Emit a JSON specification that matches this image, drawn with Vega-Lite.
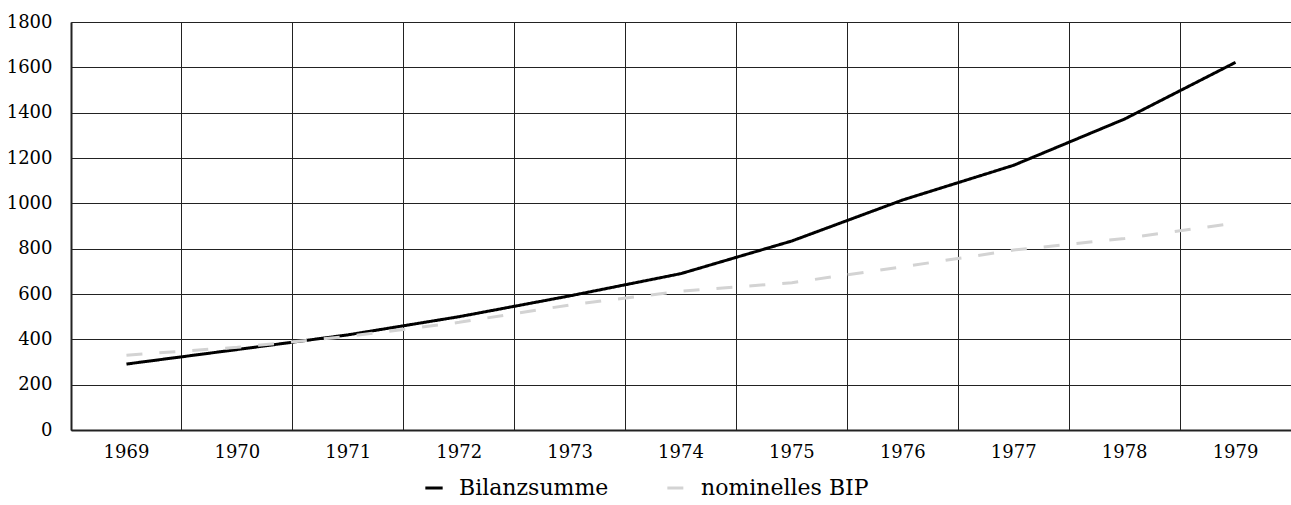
{
  "$schema": "https://vega.github.io/schema/vega-lite/v6.json",
  "width": 1220,
  "height": 408,
  "autosize": {"type": "none"},
  "padding": {"left": 71, "top": 22, "right": 0, "bottom": 75},
  "background": "white",
  "config": {
    "font": "DejaVu Serif, serif",
    "axis": {"labelFont": "DejaVu Serif, serif"},
    "legend": {"labelFont": "DejaVu Serif, serif"},
    "view": {"stroke": null}
  },
  "data": {
    "values": [
      {"Jahr": "1969", "Reihe": "Bilanzsumme", "Wert": 291},
      {"Jahr": "1970", "Reihe": "Bilanzsumme", "Wert": 355},
      {"Jahr": "1971", "Reihe": "Bilanzsumme", "Wert": 420},
      {"Jahr": "1972", "Reihe": "Bilanzsumme", "Wert": 500},
      {"Jahr": "1973", "Reihe": "Bilanzsumme", "Wert": 592},
      {"Jahr": "1974", "Reihe": "Bilanzsumme", "Wert": 690},
      {"Jahr": "1975", "Reihe": "Bilanzsumme", "Wert": 834},
      {"Jahr": "1976", "Reihe": "Bilanzsumme", "Wert": 1015},
      {"Jahr": "1977", "Reihe": "Bilanzsumme", "Wert": 1168},
      {"Jahr": "1978", "Reihe": "Bilanzsumme", "Wert": 1372},
      {"Jahr": "1979", "Reihe": "Bilanzsumme", "Wert": 1622},
      {"Jahr": "1969", "Reihe": "nominelles BIP", "Wert": 330},
      {"Jahr": "1970", "Reihe": "nominelles BIP", "Wert": 365},
      {"Jahr": "1971", "Reihe": "nominelles BIP", "Wert": 413},
      {"Jahr": "1972", "Reihe": "nominelles BIP", "Wert": 475},
      {"Jahr": "1973", "Reihe": "nominelles BIP", "Wert": 552},
      {"Jahr": "1974", "Reihe": "nominelles BIP", "Wert": 612},
      {"Jahr": "1975", "Reihe": "nominelles BIP", "Wert": 650},
      {"Jahr": "1976", "Reihe": "nominelles BIP", "Wert": 720},
      {"Jahr": "1977", "Reihe": "nominelles BIP", "Wert": 794},
      {"Jahr": "1978", "Reihe": "nominelles BIP", "Wert": 845},
      {"Jahr": "1979", "Reihe": "nominelles BIP", "Wert": 913}
    ]
  },
  "mark": {"type": "line", "strokeWidth": 3, "strokeCap": "butt"},
  "encoding": {
    "x": {
      "field": "Jahr",
      "type": "ordinal",
      "scale": {"type": "band", "paddingInner": 0, "paddingOuter": 0},
      "axis": {
        "title": null,
        "bandPosition": 0,
        "grid": true,
        "gridColor": "#222",
        "gridWidth": 1,
        "gridOpacity": 1,
        "ticks": false,
        "domain": true,
        "domainColor": "#222",
        "domainWidth": 2,
        "labelAngle": 0,
        "labelFontSize": 18,
        "labelColor": "#000",
        "labelPadding": 13,
        "labelAlign": "center"
      }
    },
    "y": {
      "field": "Wert",
      "type": "quantitative",
      "scale": {"domain": [0, 1800], "nice": false},
      "axis": {
        "title": null,
        "values": [0, 200, 400, 600, 800, 1000, 1200, 1400, 1600, 1800],
        "format": "d",
        "grid": true,
        "gridColor": "#222",
        "gridWidth": 1,
        "gridOpacity": 1,
        "ticks": false,
        "domain": true,
        "domainColor": "#222",
        "domainWidth": 2,
        "labelFontSize": 18,
        "labelColor": "#000",
        "labelPadding": 19
      }
    },
    "color": {
      "field": "Reihe",
      "type": "nominal",
      "scale": {"domain": ["Bilanzsumme", "nominelles BIP"], "range": ["#000000", "#d3d3d3"]},
      "legend": {
        "title": null,
        "orient": "none",
        "legendX": 352,
        "legendY": 455,
        "direction": "horizontal",
        "symbolType": "stroke",
        "symbolStrokeWidth": 3,
        "symbolSize": 300,
        "labelFontSize": 22,
        "labelLimit": 400,
        "labelColor": "#000",
        "labelOffset": 14,
        "columnPadding": 52,
        "encode": {
          "symbols": {
            "update": {
              "strokeDash": {"signal": "datum.value === 'nominelles BIP' ? [7, 4] : [1, 0]"}
            }
          }
        }
      }
    },
    "strokeDash": {
      "field": "Reihe",
      "type": "nominal",
      "scale": {"domain": ["Bilanzsumme", "nominelles BIP"], "range": [[1, 0], [16, 17]]},
      "legend": null
    }
  }
}
